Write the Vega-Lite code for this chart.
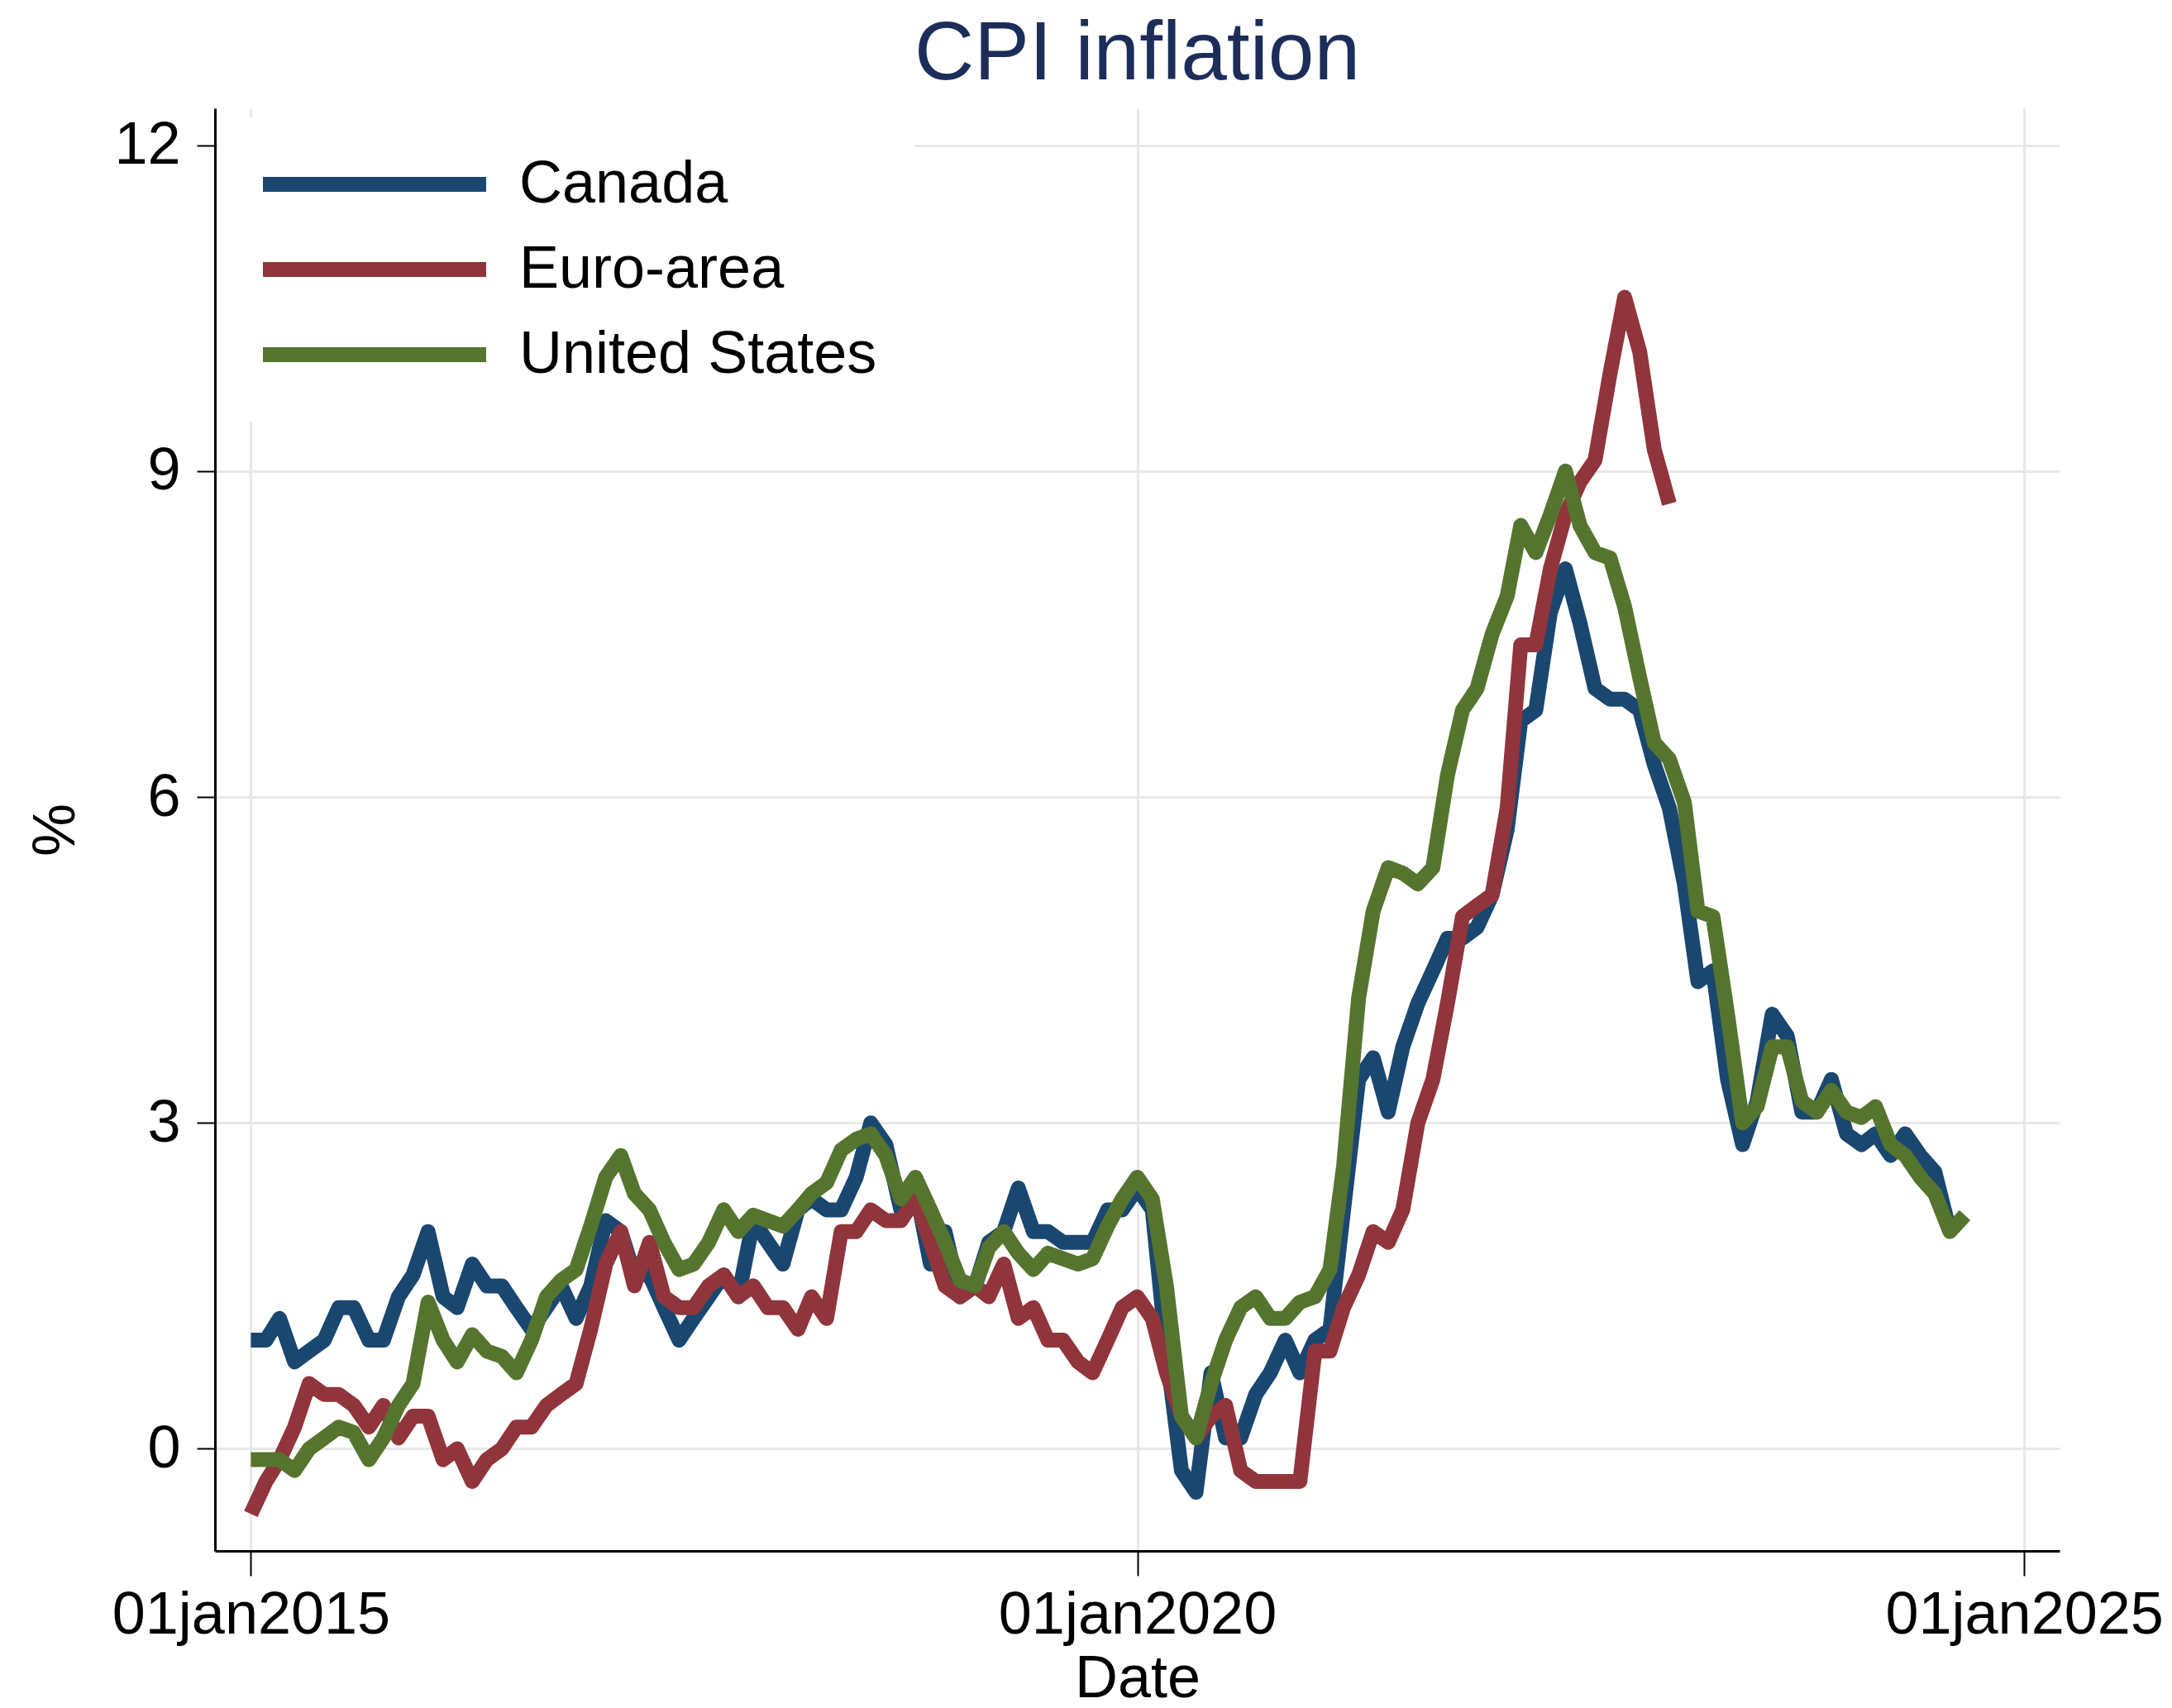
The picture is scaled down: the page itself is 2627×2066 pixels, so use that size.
{
  "$schema": "https://vega.github.io/schema/vega-lite/v6.json",
  "width": 2231,
  "height": 1745,
  "autosize": {"type": "none"},
  "padding": {"left": 260, "top": 131, "right": 136, "bottom": 190},
  "background": "white",
  "config": {
    "view": {"stroke": null},
    "font": "Liberation Sans"
  },
  "title": {"text": "CPI inflation", "fontSize": 100, "font": "Liberation Sans", "fontWeight": "normal", "color": "#1c2d5a", "offset": 14, "anchor": "middle"},
  "data": {
    "format": {"parse": {"date": "utc:'%Y-%m-%d'"}},
    "values": [
      {"date":"2015-01-01","country":"Canada","value":1.0},{"date":"2015-02-01","country":"Canada","value":1.0},{"date":"2015-03-01","country":"Canada","value":1.2},{"date":"2015-04-01","country":"Canada","value":0.8},{"date":"2015-05-01","country":"Canada","value":0.9},{"date":"2015-06-01","country":"Canada","value":1.0},{"date":"2015-07-01","country":"Canada","value":1.3},{"date":"2015-08-01","country":"Canada","value":1.3},{"date":"2015-09-01","country":"Canada","value":1.0},{"date":"2015-10-01","country":"Canada","value":1.0},{"date":"2015-11-01","country":"Canada","value":1.4},{"date":"2015-12-01","country":"Canada","value":1.6},
      {"date":"2016-01-01","country":"Canada","value":2.0},{"date":"2016-02-01","country":"Canada","value":1.4},{"date":"2016-03-01","country":"Canada","value":1.3},{"date":"2016-04-01","country":"Canada","value":1.7},{"date":"2016-05-01","country":"Canada","value":1.5},{"date":"2016-06-01","country":"Canada","value":1.5},{"date":"2016-07-01","country":"Canada","value":1.3},{"date":"2016-08-01","country":"Canada","value":1.1},{"date":"2016-09-01","country":"Canada","value":1.3},{"date":"2016-10-01","country":"Canada","value":1.5},{"date":"2016-11-01","country":"Canada","value":1.2},{"date":"2016-12-01","country":"Canada","value":1.5},
      {"date":"2017-01-01","country":"Canada","value":2.1},{"date":"2017-02-01","country":"Canada","value":2.0},{"date":"2017-03-01","country":"Canada","value":1.6},{"date":"2017-04-01","country":"Canada","value":1.6},{"date":"2017-05-01","country":"Canada","value":1.3},{"date":"2017-06-01","country":"Canada","value":1.0},{"date":"2017-07-01","country":"Canada","value":1.2},{"date":"2017-08-01","country":"Canada","value":1.4},{"date":"2017-09-01","country":"Canada","value":1.6},{"date":"2017-10-01","country":"Canada","value":1.4},{"date":"2017-11-01","country":"Canada","value":2.1},{"date":"2017-12-01","country":"Canada","value":1.9},
      {"date":"2018-01-01","country":"Canada","value":1.7},{"date":"2018-02-01","country":"Canada","value":2.2},{"date":"2018-03-01","country":"Canada","value":2.3},{"date":"2018-04-01","country":"Canada","value":2.2},{"date":"2018-05-01","country":"Canada","value":2.2},{"date":"2018-06-01","country":"Canada","value":2.5},{"date":"2018-07-01","country":"Canada","value":3.0},{"date":"2018-08-01","country":"Canada","value":2.8},{"date":"2018-09-01","country":"Canada","value":2.2},{"date":"2018-10-01","country":"Canada","value":2.4},{"date":"2018-11-01","country":"Canada","value":1.7},{"date":"2018-12-01","country":"Canada","value":2.0},
      {"date":"2019-01-01","country":"Canada","value":1.4},{"date":"2019-02-01","country":"Canada","value":1.5},{"date":"2019-03-01","country":"Canada","value":1.9},{"date":"2019-04-01","country":"Canada","value":2.0},{"date":"2019-05-01","country":"Canada","value":2.4},{"date":"2019-06-01","country":"Canada","value":2.0},{"date":"2019-07-01","country":"Canada","value":2.0},{"date":"2019-08-01","country":"Canada","value":1.9},{"date":"2019-09-01","country":"Canada","value":1.9},{"date":"2019-10-01","country":"Canada","value":1.9},{"date":"2019-11-01","country":"Canada","value":2.2},{"date":"2019-12-01","country":"Canada","value":2.2},
      {"date":"2020-01-01","country":"Canada","value":2.4},{"date":"2020-02-01","country":"Canada","value":2.2},{"date":"2020-03-01","country":"Canada","value":0.9},{"date":"2020-04-01","country":"Canada","value":-0.2},{"date":"2020-05-01","country":"Canada","value":-0.4},{"date":"2020-06-01","country":"Canada","value":0.7},{"date":"2020-07-01","country":"Canada","value":0.1},{"date":"2020-08-01","country":"Canada","value":0.1},{"date":"2020-09-01","country":"Canada","value":0.5},{"date":"2020-10-01","country":"Canada","value":0.7},{"date":"2020-11-01","country":"Canada","value":1.0},{"date":"2020-12-01","country":"Canada","value":0.7},
      {"date":"2021-01-01","country":"Canada","value":1.0},{"date":"2021-02-01","country":"Canada","value":1.1},{"date":"2021-03-01","country":"Canada","value":2.2},{"date":"2021-04-01","country":"Canada","value":3.4},{"date":"2021-05-01","country":"Canada","value":3.6},{"date":"2021-06-01","country":"Canada","value":3.1},{"date":"2021-07-01","country":"Canada","value":3.7},{"date":"2021-08-01","country":"Canada","value":4.1},{"date":"2021-09-01","country":"Canada","value":4.4},{"date":"2021-10-01","country":"Canada","value":4.7},{"date":"2021-11-01","country":"Canada","value":4.7},{"date":"2021-12-01","country":"Canada","value":4.8},
      {"date":"2022-01-01","country":"Canada","value":5.1},{"date":"2022-02-01","country":"Canada","value":5.7},{"date":"2022-03-01","country":"Canada","value":6.7},{"date":"2022-04-01","country":"Canada","value":6.8},{"date":"2022-05-01","country":"Canada","value":7.7},{"date":"2022-06-01","country":"Canada","value":8.1},{"date":"2022-07-01","country":"Canada","value":7.6},{"date":"2022-08-01","country":"Canada","value":7.0},{"date":"2022-09-01","country":"Canada","value":6.9},{"date":"2022-10-01","country":"Canada","value":6.9},{"date":"2022-11-01","country":"Canada","value":6.8},{"date":"2022-12-01","country":"Canada","value":6.3},
      {"date":"2023-01-01","country":"Canada","value":5.9},{"date":"2023-02-01","country":"Canada","value":5.2},{"date":"2023-03-01","country":"Canada","value":4.3},{"date":"2023-04-01","country":"Canada","value":4.4},{"date":"2023-05-01","country":"Canada","value":3.4},{"date":"2023-06-01","country":"Canada","value":2.8},{"date":"2023-07-01","country":"Canada","value":3.2},{"date":"2023-08-01","country":"Canada","value":4.0},{"date":"2023-09-01","country":"Canada","value":3.8},{"date":"2023-10-01","country":"Canada","value":3.1},{"date":"2023-11-01","country":"Canada","value":3.1},{"date":"2023-12-01","country":"Canada","value":3.4},
      {"date":"2024-01-01","country":"Canada","value":2.9},{"date":"2024-02-01","country":"Canada","value":2.8},{"date":"2024-03-01","country":"Canada","value":2.9},{"date":"2024-04-01","country":"Canada","value":2.7},{"date":"2024-05-01","country":"Canada","value":2.9},{"date":"2024-06-01","country":"Canada","value":2.7},{"date":"2024-07-01","country":"Canada","value":2.55},{"date":"2024-08-01","country":"Canada","value":2.0},

      {"date":"2015-01-01","country":"Euro-area","value":-0.6},{"date":"2015-02-01","country":"Euro-area","value":-0.3},{"date":"2015-03-01","country":"Euro-area","value":-0.1},{"date":"2015-04-01","country":"Euro-area","value":0.2},{"date":"2015-05-01","country":"Euro-area","value":0.6},{"date":"2015-06-01","country":"Euro-area","value":0.5},{"date":"2015-07-01","country":"Euro-area","value":0.5},{"date":"2015-08-01","country":"Euro-area","value":0.4},{"date":"2015-09-01","country":"Euro-area","value":0.2},{"date":"2015-10-01","country":"Euro-area","value":0.4},{"date":"2015-11-01","country":"Euro-area","value":0.1},{"date":"2015-12-01","country":"Euro-area","value":0.3},
      {"date":"2016-01-01","country":"Euro-area","value":0.3},{"date":"2016-02-01","country":"Euro-area","value":-0.1},{"date":"2016-03-01","country":"Euro-area","value":0.0},{"date":"2016-04-01","country":"Euro-area","value":-0.3},{"date":"2016-05-01","country":"Euro-area","value":-0.1},{"date":"2016-06-01","country":"Euro-area","value":0.0},{"date":"2016-07-01","country":"Euro-area","value":0.2},{"date":"2016-08-01","country":"Euro-area","value":0.2},{"date":"2016-09-01","country":"Euro-area","value":0.4},{"date":"2016-10-01","country":"Euro-area","value":0.5},{"date":"2016-11-01","country":"Euro-area","value":0.6},{"date":"2016-12-01","country":"Euro-area","value":1.1},
      {"date":"2017-01-01","country":"Euro-area","value":1.7},{"date":"2017-02-01","country":"Euro-area","value":2.0},{"date":"2017-03-01","country":"Euro-area","value":1.5},{"date":"2017-04-01","country":"Euro-area","value":1.9},{"date":"2017-05-01","country":"Euro-area","value":1.4},{"date":"2017-06-01","country":"Euro-area","value":1.3},{"date":"2017-07-01","country":"Euro-area","value":1.3},{"date":"2017-08-01","country":"Euro-area","value":1.5},{"date":"2017-09-01","country":"Euro-area","value":1.6},{"date":"2017-10-01","country":"Euro-area","value":1.4},{"date":"2017-11-01","country":"Euro-area","value":1.5},{"date":"2017-12-01","country":"Euro-area","value":1.3},
      {"date":"2018-01-01","country":"Euro-area","value":1.3},{"date":"2018-02-01","country":"Euro-area","value":1.1},{"date":"2018-03-01","country":"Euro-area","value":1.4},{"date":"2018-04-01","country":"Euro-area","value":1.2},{"date":"2018-05-01","country":"Euro-area","value":2.0},{"date":"2018-06-01","country":"Euro-area","value":2.0},{"date":"2018-07-01","country":"Euro-area","value":2.2},{"date":"2018-08-01","country":"Euro-area","value":2.1},{"date":"2018-09-01","country":"Euro-area","value":2.1},{"date":"2018-10-01","country":"Euro-area","value":2.3},{"date":"2018-11-01","country":"Euro-area","value":1.9},{"date":"2018-12-01","country":"Euro-area","value":1.5},
      {"date":"2019-01-01","country":"Euro-area","value":1.4},{"date":"2019-02-01","country":"Euro-area","value":1.5},{"date":"2019-03-01","country":"Euro-area","value":1.4},{"date":"2019-04-01","country":"Euro-area","value":1.7},{"date":"2019-05-01","country":"Euro-area","value":1.2},{"date":"2019-06-01","country":"Euro-area","value":1.3},{"date":"2019-07-01","country":"Euro-area","value":1.0},{"date":"2019-08-01","country":"Euro-area","value":1.0},{"date":"2019-09-01","country":"Euro-area","value":0.8},{"date":"2019-10-01","country":"Euro-area","value":0.7},{"date":"2019-11-01","country":"Euro-area","value":1.0},{"date":"2019-12-01","country":"Euro-area","value":1.3},
      {"date":"2020-01-01","country":"Euro-area","value":1.4},{"date":"2020-02-01","country":"Euro-area","value":1.2},{"date":"2020-03-01","country":"Euro-area","value":0.7},{"date":"2020-04-01","country":"Euro-area","value":0.3},{"date":"2020-05-01","country":"Euro-area","value":0.1},{"date":"2020-06-01","country":"Euro-area","value":0.3},{"date":"2020-07-01","country":"Euro-area","value":0.4},{"date":"2020-08-01","country":"Euro-area","value":-0.2},{"date":"2020-09-01","country":"Euro-area","value":-0.3},{"date":"2020-10-01","country":"Euro-area","value":-0.3},{"date":"2020-11-01","country":"Euro-area","value":-0.3},{"date":"2020-12-01","country":"Euro-area","value":-0.3},
      {"date":"2021-01-01","country":"Euro-area","value":0.9},{"date":"2021-02-01","country":"Euro-area","value":0.9},{"date":"2021-03-01","country":"Euro-area","value":1.3},{"date":"2021-04-01","country":"Euro-area","value":1.6},{"date":"2021-05-01","country":"Euro-area","value":2.0},{"date":"2021-06-01","country":"Euro-area","value":1.9},{"date":"2021-07-01","country":"Euro-area","value":2.2},{"date":"2021-08-01","country":"Euro-area","value":3.0},{"date":"2021-09-01","country":"Euro-area","value":3.4},{"date":"2021-10-01","country":"Euro-area","value":4.1},{"date":"2021-11-01","country":"Euro-area","value":4.9},{"date":"2021-12-01","country":"Euro-area","value":5.0},
      {"date":"2022-01-01","country":"Euro-area","value":5.1},{"date":"2022-02-01","country":"Euro-area","value":5.9},{"date":"2022-03-01","country":"Euro-area","value":7.4},{"date":"2022-04-01","country":"Euro-area","value":7.4},{"date":"2022-05-01","country":"Euro-area","value":8.1},{"date":"2022-06-01","country":"Euro-area","value":8.6},{"date":"2022-07-01","country":"Euro-area","value":8.9},{"date":"2022-08-01","country":"Euro-area","value":9.1},{"date":"2022-09-01","country":"Euro-area","value":9.9},{"date":"2022-10-01","country":"Euro-area","value":10.6},{"date":"2022-11-01","country":"Euro-area","value":10.1},{"date":"2022-12-01","country":"Euro-area","value":9.2},
      {"date":"2023-01-01","country":"Euro-area","value":8.7},

      {"date":"2015-01-01","country":"United States","value":-0.1},{"date":"2015-02-01","country":"United States","value":-0.1},{"date":"2015-03-01","country":"United States","value":-0.1},{"date":"2015-04-01","country":"United States","value":-0.2},{"date":"2015-05-01","country":"United States","value":0.0},{"date":"2015-06-01","country":"United States","value":0.1},{"date":"2015-07-01","country":"United States","value":0.2},{"date":"2015-08-01","country":"United States","value":0.15},{"date":"2015-09-01","country":"United States","value":-0.1},{"date":"2015-10-01","country":"United States","value":0.1},{"date":"2015-11-01","country":"United States","value":0.4},{"date":"2015-12-01","country":"United States","value":0.6},
      {"date":"2016-01-01","country":"United States","value":1.35},{"date":"2016-02-01","country":"United States","value":1.0},{"date":"2016-03-01","country":"United States","value":0.8},{"date":"2016-04-01","country":"United States","value":1.05},{"date":"2016-05-01","country":"United States","value":0.9},{"date":"2016-06-01","country":"United States","value":0.85},{"date":"2016-07-01","country":"United States","value":0.7},{"date":"2016-08-01","country":"United States","value":1.0},{"date":"2016-09-01","country":"United States","value":1.4},{"date":"2016-10-01","country":"United States","value":1.55},{"date":"2016-11-01","country":"United States","value":1.65},{"date":"2016-12-01","country":"United States","value":2.05},
      {"date":"2017-01-01","country":"United States","value":2.5},{"date":"2017-02-01","country":"United States","value":2.7},{"date":"2017-03-01","country":"United States","value":2.35},{"date":"2017-04-01","country":"United States","value":2.2},{"date":"2017-05-01","country":"United States","value":1.9},{"date":"2017-06-01","country":"United States","value":1.65},{"date":"2017-07-01","country":"United States","value":1.7},{"date":"2017-08-01","country":"United States","value":1.9},{"date":"2017-09-01","country":"United States","value":2.2},{"date":"2017-10-01","country":"United States","value":2.0},{"date":"2017-11-01","country":"United States","value":2.15},{"date":"2017-12-01","country":"United States","value":2.1},
      {"date":"2018-01-01","country":"United States","value":2.05},{"date":"2018-02-01","country":"United States","value":2.2},{"date":"2018-03-01","country":"United States","value":2.35},{"date":"2018-04-01","country":"United States","value":2.45},{"date":"2018-05-01","country":"United States","value":2.75},{"date":"2018-06-01","country":"United States","value":2.85},{"date":"2018-07-01","country":"United States","value":2.9},{"date":"2018-08-01","country":"United States","value":2.7},{"date":"2018-09-01","country":"United States","value":2.3},{"date":"2018-10-01","country":"United States","value":2.5},{"date":"2018-11-01","country":"United States","value":2.2},{"date":"2018-12-01","country":"United States","value":1.9},
      {"date":"2019-01-01","country":"United States","value":1.55},{"date":"2019-02-01","country":"United States","value":1.5},{"date":"2019-03-01","country":"United States","value":1.85},{"date":"2019-04-01","country":"United States","value":2.0},{"date":"2019-05-01","country":"United States","value":1.8},{"date":"2019-06-01","country":"United States","value":1.65},{"date":"2019-07-01","country":"United States","value":1.8},{"date":"2019-08-01","country":"United States","value":1.75},{"date":"2019-09-01","country":"United States","value":1.7},{"date":"2019-10-01","country":"United States","value":1.75},{"date":"2019-11-01","country":"United States","value":2.05},{"date":"2019-12-01","country":"United States","value":2.3},
      {"date":"2020-01-01","country":"United States","value":2.5},{"date":"2020-02-01","country":"United States","value":2.3},{"date":"2020-03-01","country":"United States","value":1.5},{"date":"2020-04-01","country":"United States","value":0.3},{"date":"2020-05-01","country":"United States","value":0.1},{"date":"2020-06-01","country":"United States","value":0.6},{"date":"2020-07-01","country":"United States","value":1.0},{"date":"2020-08-01","country":"United States","value":1.3},{"date":"2020-09-01","country":"United States","value":1.4},{"date":"2020-10-01","country":"United States","value":1.2},{"date":"2020-11-01","country":"United States","value":1.2},{"date":"2020-12-01","country":"United States","value":1.35},
      {"date":"2021-01-01","country":"United States","value":1.4},{"date":"2021-02-01","country":"United States","value":1.65},{"date":"2021-03-01","country":"United States","value":2.6},{"date":"2021-04-01","country":"United States","value":4.15},{"date":"2021-05-01","country":"United States","value":4.95},{"date":"2021-06-01","country":"United States","value":5.35},{"date":"2021-07-01","country":"United States","value":5.3},{"date":"2021-08-01","country":"United States","value":5.2},{"date":"2021-09-01","country":"United States","value":5.35},{"date":"2021-10-01","country":"United States","value":6.2},{"date":"2021-11-01","country":"United States","value":6.8},{"date":"2021-12-01","country":"United States","value":7.0},
      {"date":"2022-01-01","country":"United States","value":7.5},{"date":"2022-02-01","country":"United States","value":7.85},{"date":"2022-03-01","country":"United States","value":8.5},{"date":"2022-04-01","country":"United States","value":8.25},{"date":"2022-05-01","country":"United States","value":8.6},{"date":"2022-06-01","country":"United States","value":9.0},{"date":"2022-07-01","country":"United States","value":8.5},{"date":"2022-08-01","country":"United States","value":8.25},{"date":"2022-09-01","country":"United States","value":8.2},{"date":"2022-10-01","country":"United States","value":7.75},{"date":"2022-11-01","country":"United States","value":7.1},{"date":"2022-12-01","country":"United States","value":6.5},
      {"date":"2023-01-01","country":"United States","value":6.35},{"date":"2023-02-01","country":"United States","value":5.95},{"date":"2023-03-01","country":"United States","value":4.95},{"date":"2023-04-01","country":"United States","value":4.9},{"date":"2023-05-01","country":"United States","value":4.0},{"date":"2023-06-01","country":"United States","value":3.0},{"date":"2023-07-01","country":"United States","value":3.15},{"date":"2023-08-01","country":"United States","value":3.7},{"date":"2023-09-01","country":"United States","value":3.7},{"date":"2023-10-01","country":"United States","value":3.2},{"date":"2023-11-01","country":"United States","value":3.1},{"date":"2023-12-01","country":"United States","value":3.3},
      {"date":"2024-01-01","country":"United States","value":3.1},{"date":"2024-02-01","country":"United States","value":3.05},{"date":"2024-03-01","country":"United States","value":3.15},{"date":"2024-04-01","country":"United States","value":2.8},{"date":"2024-05-01","country":"United States","value":2.7},{"date":"2024-06-01","country":"United States","value":2.5},{"date":"2024-07-01","country":"United States","value":2.35},{"date":"2024-08-01","country":"United States","value":2.0},{"date":"2024-09-01","country":"United States","value":2.15}
    ]
  },
  "mark": {"type": "line", "strokeWidth": 18, "strokeJoin": "round", "strokeCap": "butt", "clip": true},
  "encoding": {
    "x": {
      "field": "date",
      "type": "temporal",
      "scale": {"type": "utc", "domain": [{"year": 2014, "month": 10, "date": 19, "utc": true}, {"year": 2025, "month": 3, "date": 15, "utc": true}]},
      "axis": {
        "values": [{"year": 2015, "month": 1, "date": 1, "utc": true}, {"year": 2020, "month": 1, "date": 1, "utc": true}, {"year": 2025, "month": 1, "date": 1, "utc": true}],
        "labelExpr": "lower(utcFormat(datum.value, '%d%b%Y'))",
        "title": "Date",
        "grid": true,
        "gridColor": "#e8e8e8",
        "gridWidth": 3,
        "domainColor": "black",
        "domainWidth": 3,
        "tickColor": "black",
        "tickWidth": 2,
        "tickSize": 30,
        "labelFont": "Liberation Sans",
        "labelFontSize": 72,
        "labelColor": "black",
        "labelPadding": 12,
        "labelOverlap": false,
        "labelFlush": false,
        "labelLimit": 0,
        "titleFont": "Liberation Sans",
        "titleFontSize": 72,
        "titleFontWeight": "normal",
        "titleColor": "black",
        "titlePadding": 6
      }
    },
    "y": {
      "field": "value",
      "type": "quantitative",
      "scale": {"domain": [-0.94, 12.34], "nice": false, "zero": false},
      "axis": {
        "values": [0, 3, 6, 9, 12],
        "title": "%",
        "grid": true,
        "gridColor": "#e8e8e8",
        "gridWidth": 3,
        "domainColor": "black",
        "domainWidth": 3,
        "tickColor": "black",
        "tickWidth": 2,
        "tickSize": 22,
        "labelFont": "Liberation Sans",
        "labelFontSize": 72,
        "labelColor": "black",
        "labelPadding": 20,
        "titleFont": "Liberation Sans",
        "titleFontSize": 72,
        "titleFontWeight": "normal",
        "titleColor": "black",
        "titlePadding": 33
      }
    },
    "color": {
      "field": "country",
      "type": "nominal",
      "scale": {"domain": ["Canada", "Euro-area", "United States"], "range": ["#1a476f", "#90353b", "#55752f"]},
      "legend": {
        "title": null,
        "orient": "none",
        "legendX": 4,
        "legendY": 11,
        "direction": "vertical",
        "fillColor": "white",
        "padding": 45,
        "clipHeight": 72,
        "symbolType": "stroke",
        "symbolSize": 72900,
        "symbolStrokeWidth": 18,
        "labelFont": "Liberation Sans",
        "labelFontSize": 72,
        "labelColor": "black",
        "labelOffset": 31,
        "rowPadding": 31,
        "labelLimit": 0
      }
    }
  }
}
